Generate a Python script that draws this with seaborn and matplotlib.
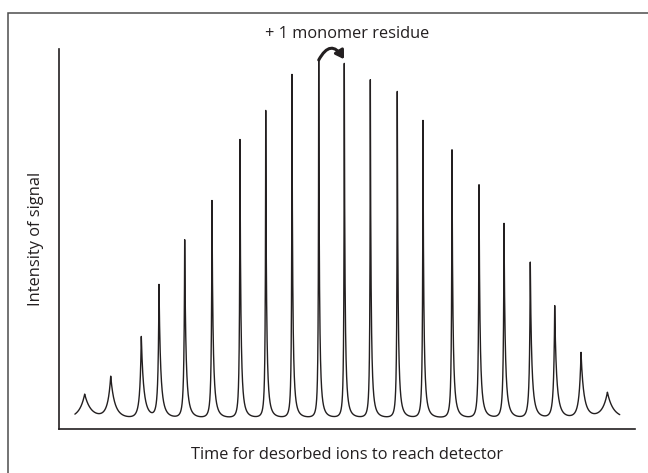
import numpy as np
import pandas as pd
import seaborn as sns
import matplotlib.pyplot as plt
from matplotlib.patches import Rectangle

# peak positions (time, arbitrary units) and peak intensities (arbitrary units)
peak_time = [4.46, 8.98, 14.29, 17.36, 21.82, 26.56, 31.42, 35.89, 40.45, 45.09, 49.53,
             54.05, 58.73, 63.19, 68.23, 72.92, 77.26, 81.82, 86.06, 90.63, 95.21]
peak_height = [9.13, 13.68, 24.21, 37.71, 49.66, 60.00, 76.05, 83.68, 93.16, 97.11, 96.05,
               91.76, 88.68, 81.05, 73.34, 64.13, 53.95, 43.76, 32.29, 19.92, 9.55]
baseline = 2.7
t_start, t_end = 2.76, 97.35

title_text = '+ 1 monomer residue'
x_label = 'Time for desorbed ions to reach detector'
y_label = 'Intensity of signal'

# build the spectrum trace: cusp-shaped peaks on a flat baseline,
# tall peaks are narrow spikes, small ones broader cusps
t = np.sort(np.concatenate([np.linspace(t_start, t_end, 9000), peak_time]))
signal = np.full_like(t, baseline)
for p, h in zip(peak_time, peak_height):
    a = h - baseline
    w = 3.33 * a ** -0.8 * (1 + 2 / a)
    n = 2 + 40 / a
    skew = 0.3 * min(1.0, a / 25)
    d = t - p
    wd = np.where(d < 0, (1 - skew) * w, (1 + skew) * w)
    signal += a * (1 + np.abs(d) / (n * wd)) ** -n
df = pd.DataFrame({'time': t, 'signal': signal})

sns.set_style('white')
plt.rcParams['font.family'] = ['Open Sans', 'DejaVu Sans']
ink = '#231f20'

fig = plt.figure(figsize=(6.48, 4.73), dpi=100)
ax = fig.add_axes([59 / 648, 1 - 429 / 473, 576 / 648, 380 / 473])

sns.lineplot(data=df, x='time', y='signal', color=ink, linewidth=1.0,
             estimator=None, ax=ax)

ax.set_xlim(0, 100)
ax.set_ylim(0, 100)
ax.set_xticks([])
ax.set_yticks([])
sns.despine(ax=ax)
for s in ['left', 'bottom']:
    ax.spines[s].set_color(ink)
    ax.spines[s].set_linewidth(1.2)

fs = 11.8
ax.set_xlabel(x_label, fontsize=fs, color=ink)
ax.set_ylabel(y_label, fontsize=fs, color=ink)
ax.xaxis.set_label_coords(0.5, -0.068)
ax.xaxis.label.set_va('center')
ax.yaxis.set_label_coords(-0.040, 0.5)
ax.yaxis.label.set_va('center')

fig.text(347 / 648, 1 - 34 / 473, title_text, ha='center', va='center',
         fontsize=fs, color=ink)

# curved arrow from one peak top to the next
ax.annotate('', xy=(peak_time[10] - 0.05, peak_height[9] + 0.2),
            xytext=(peak_time[9], peak_height[9]),
            arrowprops=dict(arrowstyle='-|>,head_length=0.4,head_width=0.25',
                            connectionstyle='arc3,rad=-0.85', color=ink, lw=2.2,
                            shrinkA=0, shrinkB=0, mutation_scale=12))

fig.patches.append(Rectangle((7.5 / 648, -0.2), 1.2, 1.2 - 12.5 / 473, transform=fig.transFigure,
                             fill=False, edgecolor='#4d4d4d', linewidth=1.1))

fig.savefig('out.png', dpi=100)
